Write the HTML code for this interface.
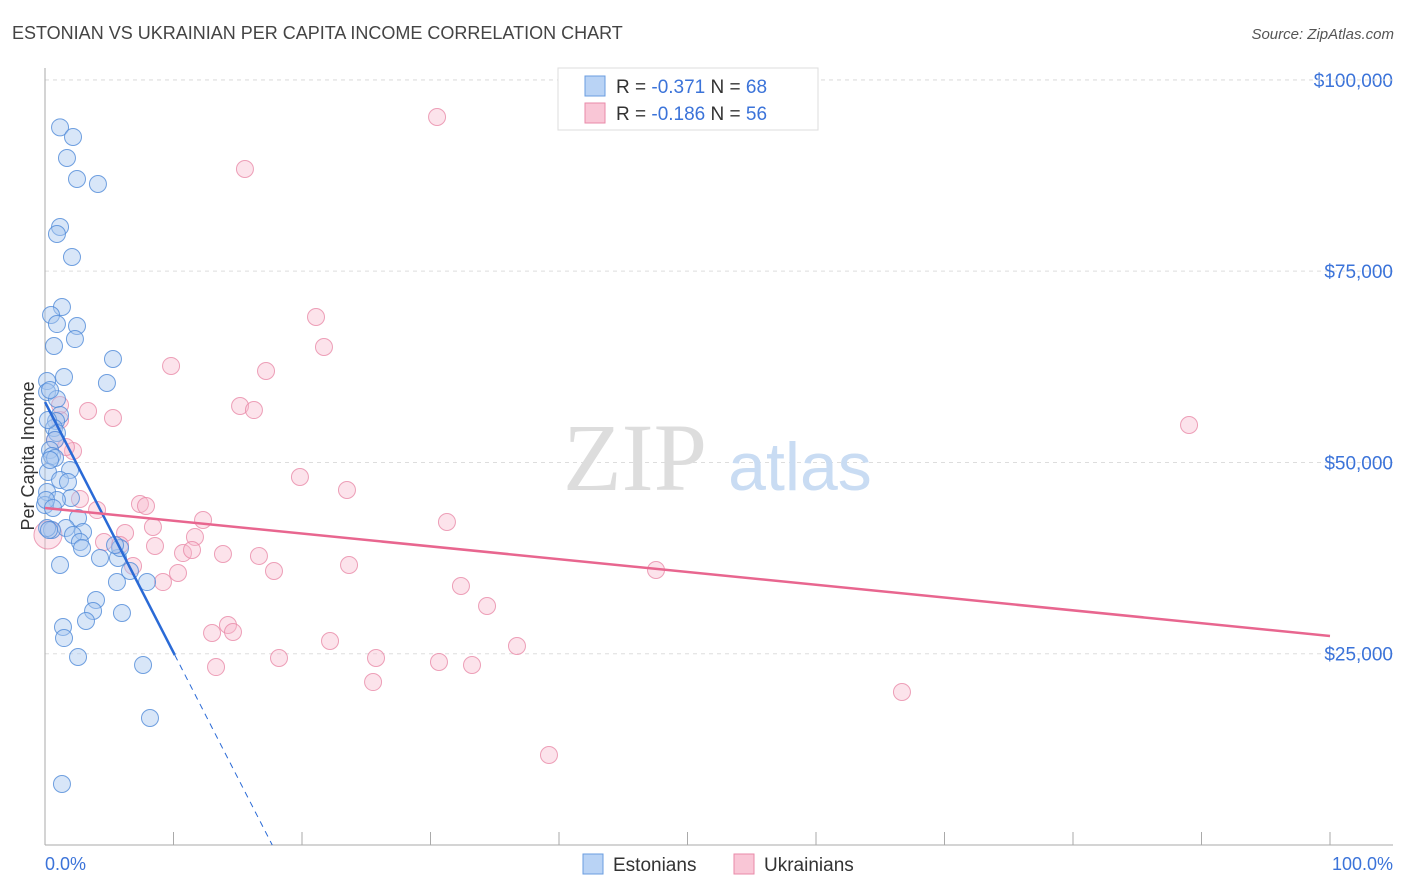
<!DOCTYPE html>
<html><head><meta charset="utf-8"><style>
body{margin:0;background:#fff;font-family:"Liberation Sans",sans-serif}
svg{display:block}
</style></head><body>
<svg id="c" width="1406" height="892" xmlns="http://www.w3.org/2000/svg">
<text x="12" y="39" font-size="18" fill="#444">ESTONIAN VS UKRAINIAN PER CAPITA INCOME CORRELATION CHART</text>
<text x="1394" y="39" font-size="15" fill="#555" font-style="italic" text-anchor="end">Source: ZipAtlas.com</text>
<g id="grid"></g>
<text x="635" y="490" font-size="96" font-family="Liberation Serif,serif" fill="#ddd" text-anchor="middle">ZIP</text>
<text x="800" y="490" font-size="68" fill="#c9dcf3" text-anchor="middle">atlas</text>
<line x1="45" y1="68" x2="45" y2="845" stroke="#aaa"/>
<line x1="45" y1="845" x2="1393" y2="845" stroke="#aaa"/>
<text transform="translate(34,456) rotate(-90)" font-size="18" fill="#333" text-anchor="middle">Per Capita Income</text>
<text x="45" y="870" font-size="18" fill="#3b73d9">0.0%</text>
<text x="1393" y="870" font-size="18" fill="#3b73d9" text-anchor="end">100.0%</text>
<g id="pts"></g>
<g id="lines"></g>
<g>
<rect x="558" y="68" width="260" height="62" fill="#fff" stroke="#ddd"/>
<rect x="585" y="76" width="20" height="20" fill="#b9d3f5" stroke="#6a9de0"/>
<rect x="585" y="103" width="20" height="20" fill="#f9c6d6" stroke="#e98aa8"/>
<text x="616" y="93" font-size="19" fill="#333">R = <tspan fill="#3b73d9">-0.371</tspan>   N = <tspan fill="#3b73d9">68</tspan></text>
<text x="616" y="120" font-size="19" fill="#333">R = <tspan fill="#3b73d9">-0.186</tspan>   N = <tspan fill="#3b73d9">56</tspan></text>
</g>
<g>
<rect x="583" y="854" width="20" height="20" fill="#b9d3f5" stroke="#6a9de0"/>
<text x="613" y="871" font-size="19" fill="#333">Estonians</text>
<rect x="734" y="854" width="20" height="20" fill="#f9c6d6" stroke="#e98aa8"/>
<text x="764" y="871" font-size="19" fill="#333">Ukrainians</text>
</g>
</svg>
<script>
const yTicks=[25000,50000,75000,100000];
const yTickLabels=["$25,000","$50,000","$75,000","$100,000"];
const xTicks=[0,10,20,30,40,50,60,70,80,90,100];
const estX=[1.17,2.18,1.71,2.49,4.12,1.17,0.93,2.10,1.32,0.47,0.93,2.49,0.70,2.33,1.48,5.29,4.82,0.16,0.16,0.93,1.17,0.86,0.70,0.93,0.78,0.39,0.54,0.78,1.95,0.23,1.17,1.79,2.02,0.16,0.93,2.57,1.63,0.54,2.96,2.18,2.72,2.88,1.17,4.28,5.68,5.84,5.60,6.61,3.97,3.74,3.19,1.40,1.48,5.99,7.94,2.57,7.63,8.17,1.32,0.16,0.31,0.0,0.39,0.23,0.39,0.08,5.45,0.62];
const estY=[93800,92540,89790,87050,86390,80770,79860,76850,70320,69270,68090,67830,65220,66130,61170,63520,60380,60640,59210,58290,56200,55420,54500,53850,52930,51630,50840,50580,49010,48750,47710,47440,45350,46140,45090,42740,41430,41170,40910,40520,39600,38820,36600,37510,37510,38820,34370,35810,32020,30580,29280,28490,27050,30320,34370,24570,23530,16600,7970,41430,41170,44440,59470,55550,50320,45090,39210,44050];
const ukrX=[30.51,15.56,21.09,21.71,9.81,17.20,15.18,16.26,3.35,5.29,1.17,0.78,2.18,89.03,19.84,23.50,2.72,7.39,7.86,4.05,12.30,31.28,8.40,6.23,11.67,0.23,4.59,8.56,10.74,11.44,13.85,16.65,5.84,6.85,17.82,23.66,47.55,10.35,9.18,32.37,34.40,14.24,13.00,14.63,22.18,36.73,18.21,25.76,13.31,30.66,33.23,25.53,66.69,39.22,1.17,1.63];
const ukrY=[95150,88350,69010,65090,62610,61950,57380,56850,56720,55810,55550,52930,51500,54890,48100,46400,45220,44570,44310,43780,42480,42220,41560,40780,40260,40520,39600,39080,38160,38560,38030,37770,39210,36470,35810,36600,35940,35550,34370,33850,31240,28750,27710,27840,26660,26010,24440,24440,23260,23920,23530,21300,20000,11760,57510,52020];
const estTrend=[57900,-3274];   // intercept, slope per %
const ukrTrend=[44050,-167.3];
const sx=v=>45+v*12.85, sy=v=>845-v/130.7;
const NS="http://www.w3.org/2000/svg";
function mk(t,a,p){const e=document.createElementNS(NS,t);for(const k in a)e.setAttribute(k,a[k]);p.appendChild(e);return e;}
const grid=document.getElementById('grid');
yTicks.forEach((v,i)=>{
 const l=mk('line',{x1:45,x2:1393,y1:sy(v),y2:sy(v),stroke:'#ddd','stroke-dasharray':'4,4'},grid);
 
 
 const t=mk('text',{x:1393,y:sy(v)+7,'font-size':19,fill:'#3b73d9','text-anchor':'end'},grid);
 t.textContent=yTickLabels[i];
 
 
});
const tl=mk('line',{x1:45,x2:1393,y1:80,y2:80,stroke:'#ddd','stroke-dasharray':'4,4'},grid);


xTicks.forEach(v=>{
 const l=mk('line',{x1:sx(v),x2:sx(v),y1:832,y2:845,stroke:'#aaa'},grid);
 
 
});
const pts=document.getElementById('pts');
ukrX.forEach((x,i)=>{
 const c=mk('circle',{cx:sx(x),cy:sy(ukrY[i]),r:i==25?14:8.5,fill:'#f7b8cc','fill-opacity':0.4,stroke:'#e88aa8','stroke-opacity':0.8},pts);
 
 
});
estX.forEach((x,i)=>{
 const c=mk('circle',{cx:sx(x),cy:sy(estY[i]),r:8.5,fill:'#a9c8f0','fill-opacity':0.45,stroke:'#4f8ad8','stroke-opacity':0.8},pts);
 
 
});
const lines=document.getElementById('lines');
const ef=x=>estTrend[0]+estTrend[1]*x, uf=x=>ukrTrend[0]+ukrTrend[1]*x;
const xs=10.1, xe=-estTrend[0]/estTrend[1];
const b1=mk('line',{x1:sx(0),y1:sy(ef(0)),x2:sx(xs),y2:sy(ef(xs)),stroke:'#2a6ad6','stroke-width':2.5},lines);


const b2=mk('line',{x1:sx(xs),y1:sy(ef(xs)),x2:sx(xe),y2:sy(ef(xe)),stroke:'#2a6ad6','stroke-width':1,'stroke-dasharray':'6,5'},lines);


const p1=mk('line',{x1:sx(0),y1:sy(uf(0)),x2:sx(100),y2:sy(uf(100)),stroke:'#e8668f','stroke-width':2.5},lines);


</script>
</body></html>
